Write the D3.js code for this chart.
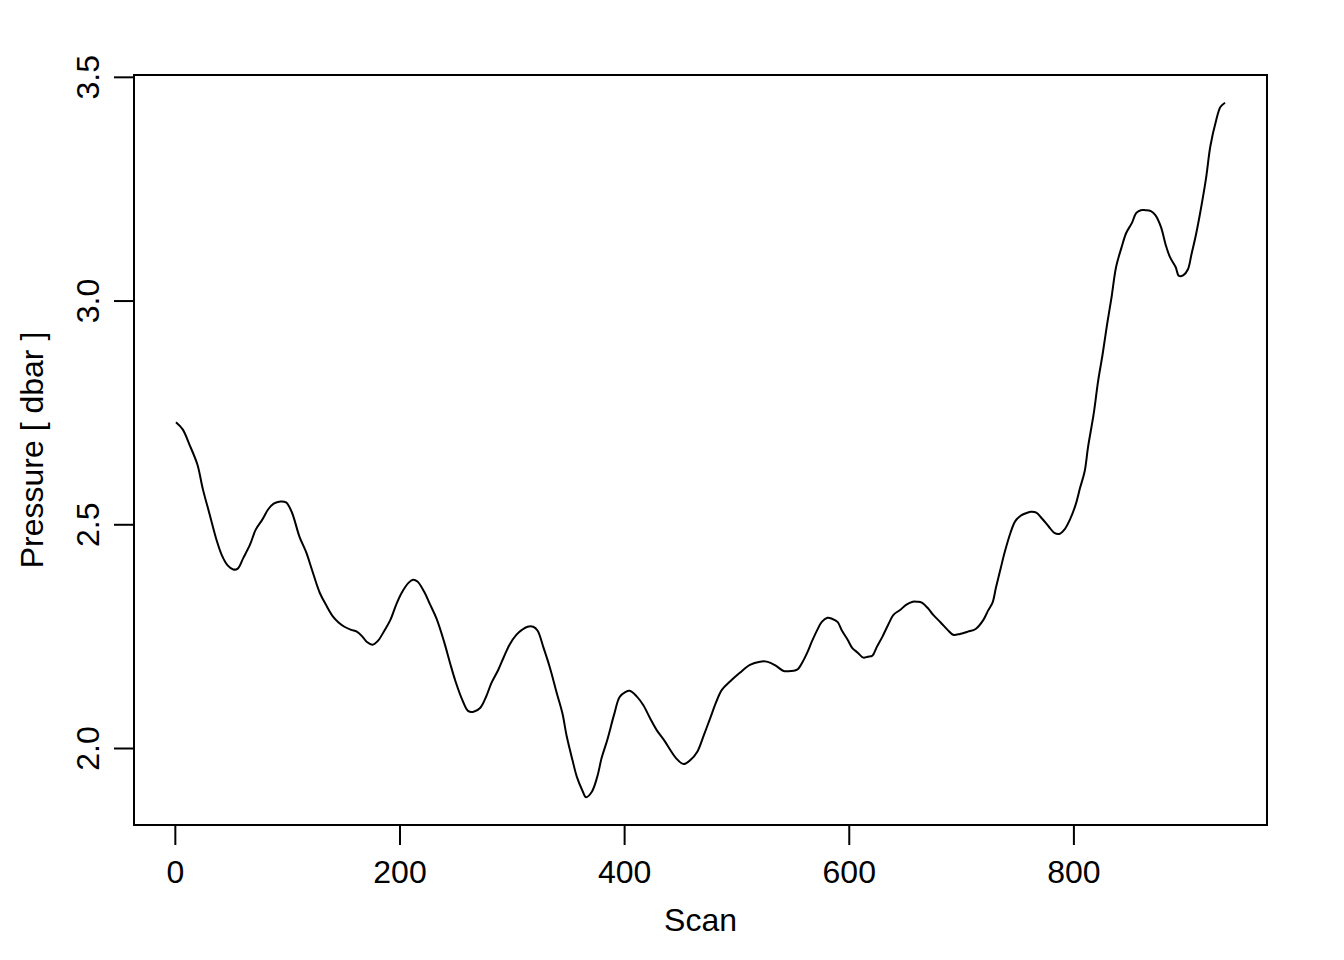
<!DOCTYPE html>
<html>
<head>
<meta charset="utf-8">
<script src="https://cdn.jsdelivr.net/npm/d3@7"></script>
<style>
  html, body { margin: 0; padding: 0; background: #fff; }
  svg text { font-family: "Liberation Sans", Arial, Helvetica, sans-serif; fill: #000; }
</style>
</head>
<body>
<svg id="chart" width="1344" height="960"></svg>
<script>
// --- DATA ---
const scan = [
  1, 7, 13, 20, 25, 31, 37, 42, 47, 52, 56, 61, 67, 72, 78, 83, 88, 94, 99, 104,
  111, 117, 122, 129, 135, 141, 146, 151, 157, 162, 167, 171, 176, 181, 186, 192, 197, 202, 208, 212,
  216, 222, 227, 233, 240, 245, 250, 256, 261, 266, 272, 277, 282, 288, 293, 298, 304, 309, 314, 319,
  323, 328, 334, 340, 345, 349, 354, 358, 363, 366, 371, 376, 380, 385, 391, 396, 401, 405, 411, 417,
  423, 429, 436, 441, 446, 453, 459, 465, 471, 477, 482, 487, 494, 503, 512, 521, 527, 535, 542, 548,
  554, 559, 563, 567, 572, 576, 581, 585, 590, 594, 599, 603, 608, 613, 617, 621, 625, 630, 635, 640,
  646, 651, 657, 661, 665, 671, 675, 682, 688, 693, 699, 706, 713, 720, 724, 728, 731, 735, 739, 744,
  748, 753, 757, 762, 767, 772, 778, 783, 788, 792, 797, 802, 806, 810, 813, 818, 822, 826, 830, 834,
  838, 843, 847, 852, 856, 860, 864, 869, 873, 878, 882, 886, 891, 894, 898, 902, 905, 909, 913, 918,
  922, 927, 931, 935
];
const pressure = [
  2.728, 2.712, 2.678, 2.634, 2.578, 2.522, 2.466, 2.430, 2.408, 2.399, 2.401, 2.425, 2.455, 2.488, 2.511, 2.533, 2.546, 2.551, 2.549, 2.528,
  2.472, 2.437, 2.399, 2.347, 2.318, 2.293, 2.280, 2.271, 2.264, 2.260, 2.249, 2.237, 2.231, 2.240, 2.260, 2.287, 2.320, 2.347, 2.369, 2.376,
  2.372, 2.349, 2.322, 2.289, 2.235, 2.190, 2.148, 2.107, 2.083, 2.081, 2.090, 2.114, 2.146, 2.175, 2.204, 2.231, 2.253, 2.264, 2.271, 2.271,
  2.262, 2.226, 2.179, 2.123, 2.078, 2.025, 1.973, 1.935, 1.904, 1.890, 1.901, 1.935, 1.978, 2.018, 2.074, 2.114, 2.125, 2.128, 2.116, 2.096,
  2.067, 2.040, 2.016, 1.996, 1.978, 1.964, 1.973, 1.991, 2.029, 2.069, 2.103, 2.130, 2.148, 2.168, 2.186, 2.193, 2.193, 2.184, 2.172, 2.172,
  2.175, 2.193, 2.213, 2.237, 2.264, 2.282, 2.291, 2.289, 2.282, 2.262, 2.242, 2.224, 2.213, 2.202, 2.204, 2.206, 2.226, 2.249, 2.275, 2.298,
  2.309, 2.320, 2.327, 2.327, 2.325, 2.311, 2.298, 2.280, 2.264, 2.253, 2.255, 2.260, 2.266, 2.287, 2.307, 2.325, 2.358, 2.399, 2.439, 2.481,
  2.506, 2.519, 2.524, 2.528, 2.526, 2.513, 2.495, 2.481, 2.479, 2.488, 2.511, 2.544, 2.582, 2.618, 2.672, 2.746, 2.820, 2.880, 2.947, 3.008,
  3.075, 3.120, 3.151, 3.173, 3.196, 3.202, 3.202, 3.200, 3.191, 3.164, 3.126, 3.097, 3.075, 3.055, 3.057, 3.070, 3.102, 3.146, 3.198, 3.272,
  3.346, 3.402, 3.433, 3.442
];
const xTicks = [0, 200, 400, 600, 800];
const yTicks = [2.0, 2.5, 3.0, 3.5];
const xLabel = "Scan";
const yLabel = "Pressure [ dbar ]";

// --- LAYOUT ---
const plot = { left: 134, right: 1267, top: 75, bottom: 825 };
const fontSize = 32;
const lw = 2;

// R-style 4% axis padding
function padRange(vals) {
  const [lo, hi] = d3.extent(vals);
  const d = (hi - lo) * 0.04;
  return [lo - d, hi + d];
}

const x = d3.scaleLinear().domain(padRange(scan)).range([plot.left, plot.right]);
const y = d3.scaleLinear().domain(padRange(pressure)).range([plot.bottom, plot.top]);

const svg = d3.select("#chart");
const points = scan.map((s, i) => [s, pressure[i]]);

// data line
svg.append("path")
  .datum(points)
  .attr("fill", "none")
  .attr("stroke", "#000")
  .attr("stroke-width", lw)
  .attr("stroke-linejoin", "round")
  .attr("d", d3.line().x(d => x(d[0])).y(d => y(d[1])).curve(d3.curveCatmullRom.alpha(0.5)));

// box
svg.append("rect")
  .attr("x", plot.left).attr("y", plot.top)
  .attr("width", plot.right - plot.left).attr("height", plot.bottom - plot.top)
  .attr("fill", "none").attr("stroke", "#000").attr("stroke-width", lw);

// x axis
const xAxis = svg.append("g")
  .attr("transform", `translate(0,${plot.bottom})`)
  .call(d3.axisBottom(x).tickValues(xTicks).tickSize(20).tickPadding(0).tickSizeOuter(0).tickFormat(d3.format("d")));
xAxis.select(".domain")
  .attr("d", `M${x(xTicks[0])},0H${x(xTicks[xTicks.length - 1])}`)
  .attr("stroke-width", lw);
xAxis.selectAll(".tick line").attr("stroke-width", lw);
xAxis.selectAll(".tick text")
  .attr("y", 58).attr("dy", null)
  .style("font-size", fontSize + "px")
  .style("font-family", "'Liberation Sans', Arial, sans-serif")
  .attr("fill", "#000");

// y axis
const yAxis = svg.append("g")
  .attr("transform", `translate(${plot.left},0)`)
  .call(d3.axisLeft(y).tickValues(yTicks).tickSize(20).tickSizeOuter(0).tickFormat(d3.format(".1f")));
yAxis.select(".domain")
  .attr("d", `M0,${y(yTicks[0])}V${y(yTicks[yTicks.length - 1])}`)
  .attr("stroke-width", lw);
yAxis.selectAll(".tick line").attr("stroke-width", lw);
yAxis.selectAll(".tick text")
  .attr("x", null).attr("dy", null)
  .attr("transform", "translate(-35,0) rotate(-90)")
  .attr("text-anchor", "middle")
  .style("font-size", fontSize + "px")
  .style("font-family", "'Liberation Sans', Arial, sans-serif")
  .attr("fill", "#000");

// axis titles
svg.append("text")
  .attr("x", (plot.left + plot.right) / 2)
  .attr("y", 931)
  .attr("text-anchor", "middle")
  .style("font-size", fontSize + "px")
  .text(xLabel);

svg.append("text")
  .attr("transform", `translate(43,${(plot.top + plot.bottom) / 2}) rotate(-90)`)
  .attr("text-anchor", "middle")
  .style("font-size", fontSize + "px")
  .text(yLabel);
</script>
</body>
</html>
